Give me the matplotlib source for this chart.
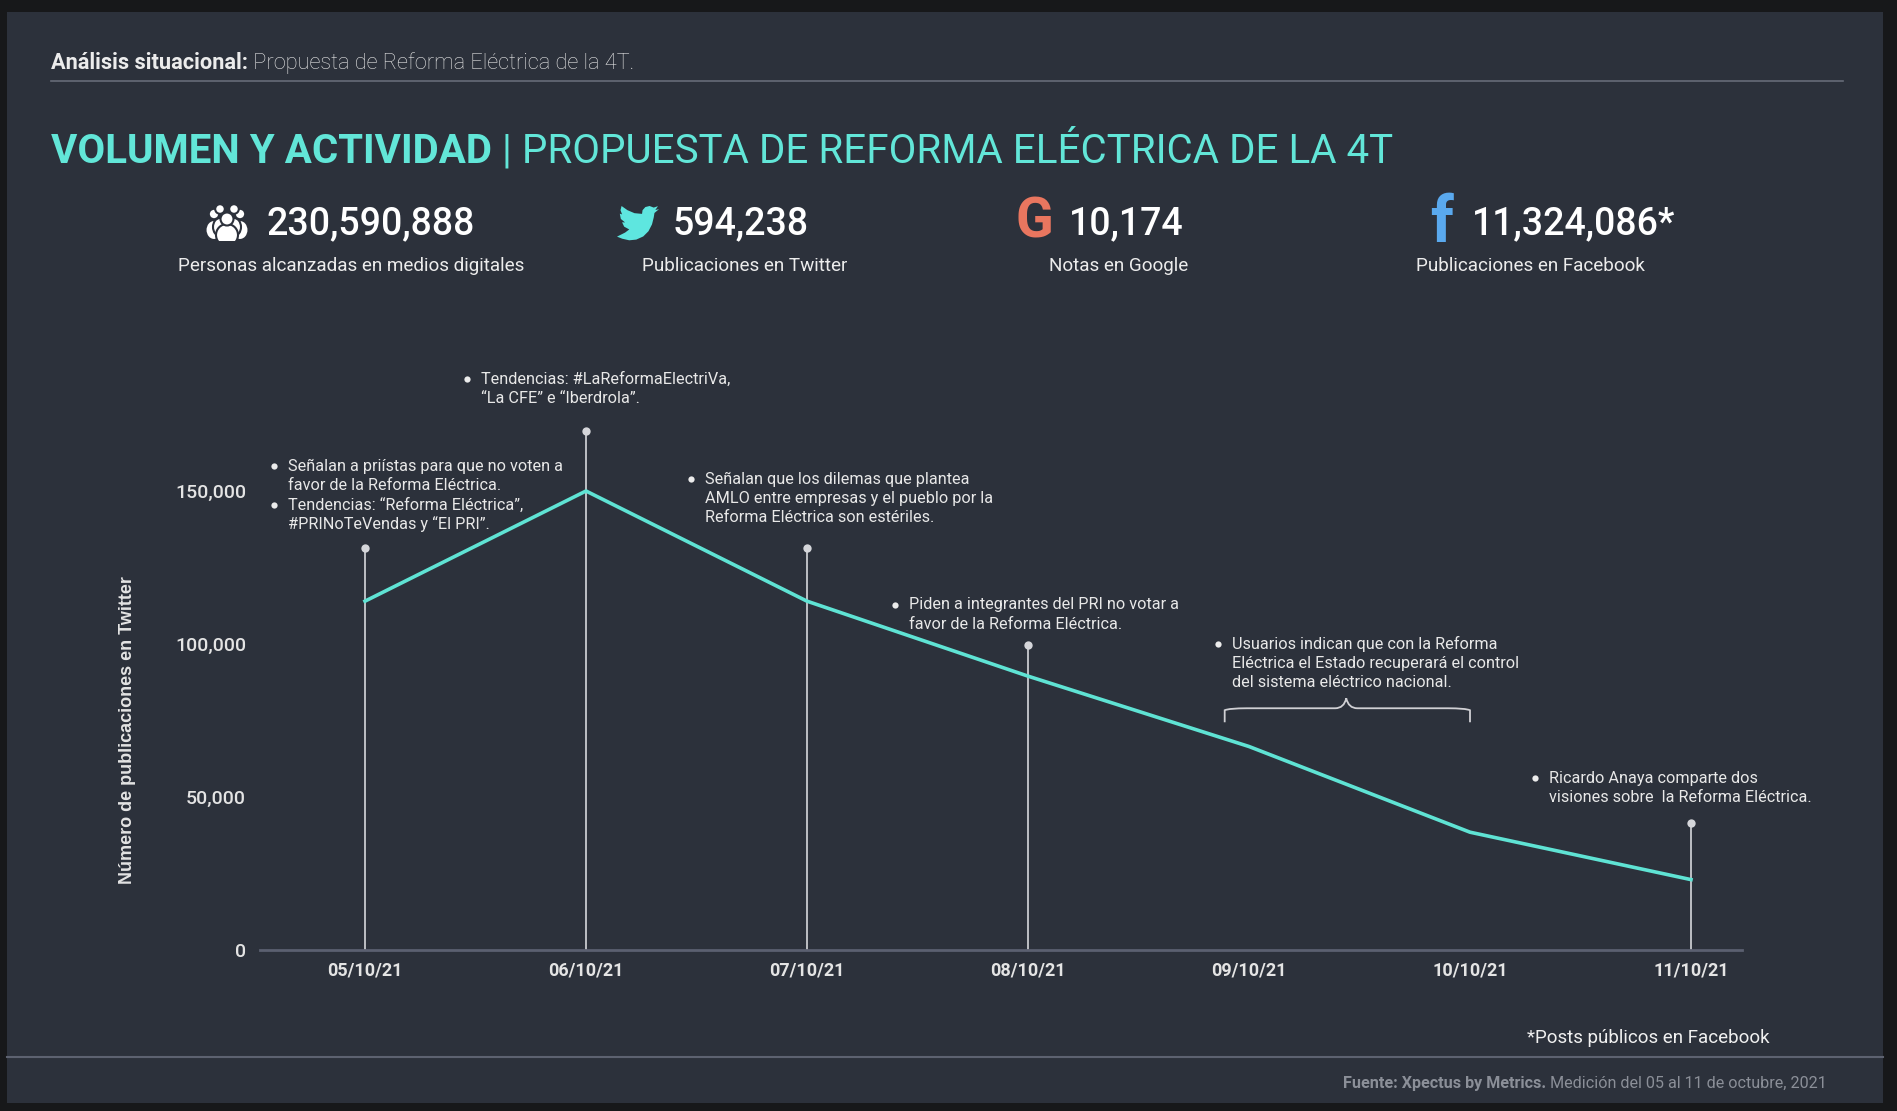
import matplotlib.pyplot as plt
from matplotlib.patches import Rectangle, Circle, Ellipse, Polygon
from matplotlib.path import Path
from matplotlib.patches import PathPatch

# datos
fechas = ["05/10/21", "06/10/21", "07/10/21", "08/10/21", "09/10/21", "10/10/21", "11/10/21"]
publicaciones = [114000, 150000, 114000, 89500, 66500, 38500, 23000]
y_ticks = [0, 50000, 100000, 150000]

# marcas de eventos (indice de fecha, altura del punto)
evento_idx = [0, 1, 2, 3, 6]
evento_alto = [131500, 169500, 131500, 99800, 41600]

stats_valores = ["230,590,888", "594,238", "10,174", "11,324,086*"]
stats_etiquetas = ["Personas alcanzadas en medios digitales", "Publicaciones en Twitter",
                   "Notas en Google", "Publicaciones en Facebook"]

notas = [
    (288, 466, [(True, "Señalan a priístas para que no voten a"),
                (False, "favor de la Reforma Eléctrica."),
                (True, "Tendencias: “Reforma Eléctrica”,"),
                (False, "#PRINoTeVendas y “El PRI”.")]),
    (481, 379, [(True, "Tendencias: #LaReformaElectriVa,"),
                (False, "“La CFE” e “Iberdrola”.")]),
    (705, 479, [(True, "Señalan que los dilemas que plantea"),
                (False, "AMLO entre empresas y el pueblo por la"),
                (False, "Reforma Eléctrica son estériles.")]),
    (909, 605, [(True, "Piden a integrantes del PRI no votar a"),
                (False, "favor de la Reforma Eléctrica.")]),
    (1232, 644, [(True, "Usuarios indican que con la Reforma"),
                 (False, "Eléctrica el Estado recuperará el control"),
                 (False, "del sistema eléctrico nacional.")]),
    (1549, 778, [(True, "Ricardo Anaya comparte dos"),
                 (False, "visiones sobre  la Reforma Eléctrica.")]),
]

FONDO = "#17181a"
PANEL = "#2c313b"
CIAN = "#62e6d8"
W, H = 1897, 1111

plt.rcParams['font.family'] = ['Roboto', 'DejaVu Sans']

fig = plt.figure(figsize=(W / 100, H / 100), dpi=100)
fig.patch.set_facecolor(FONDO)

bg = fig.add_axes([0, 0, 1, 1])
bg.set_xlim(0, W)
bg.set_ylim(H, 0)
bg.axis('off')
bg.add_patch(Rectangle((7, 12), 1876, 1091, facecolor=PANEL, edgecolor='none'))
bg.plot([51, 1843], [81, 81], color="#666b78", lw=1.2)
bg.plot([7, 1883], [1057, 1057], color="#5d6270", lw=1.5)

r = fig.canvas.get_renderer()


def texto_doble(x, y, a, b, size, ca, cb, wa='bold', wb='normal', ha='left'):
    # y es la linea base en pixeles (desde arriba)
    if ha == 'left':
        t1 = bg.text(x, y, a, fontsize=size, color=ca, fontweight=wa, va='baseline')
        bb = t1.get_window_extent(r)
        bg.text(bb.x1, H - y, b, fontsize=size, color=cb, fontweight=wb, va='baseline',
                transform=None)
    else:
        t2 = bg.text(x, y, b, fontsize=size, color=cb, fontweight=wb, va='baseline', ha='right')
        bb = t2.get_window_extent(r)
        bg.text(bb.x0, H - y, a, fontsize=size, color=ca, fontweight=wa, va='baseline',
                ha='right', transform=None)


texto_doble(51, 69, "Análisis situacional:", " Propuesta de Reforma Eléctrica de la 4T.",
            15.7, "#ececec", "#e6e6e6", wb='light')
texto_doble(51, 163, "VOLUMEN Y ACTIVIDAD", " | PROPUESTA DE REFORMA ELÉCTRICA DE LA 4T",
            29, CIAN, CIAN)
texto_doble(1827, 1088, "Fuente: Xpectus by Metrics.", " Medición del 05 al 11 de octubre, 2021",
            11.6, "#8b8f98", "#8b8f98", ha='right')
bg.text(1770, 1038, "*Posts públicos en Facebook", fontsize=13.5, color="#f0f0f0",
        ha='right', va='center')

# estadisticas
num_x = [266, 673, 1069, 1472]
lab_x = [351, 745, 1119, 1530]
for v, e, nx, lx in zip(stats_valores, stats_etiquetas, num_x, lab_x):
    bg.text(nx, 224, v, fontsize=27, color="white", va='center', fontweight='medium')
    bg.text(lx, 266, e, fontsize=13.6, color="#ececec", ha='center', va='center')

# icono personas
cx, cy = 227, 222
for dx in (-13, 13):
    bg.add_patch(Ellipse((cx + dx, cy + 8), 17, 20, facecolor="white", edgecolor=PANEL, lw=1.5))
    bg.add_patch(Circle((cx + dx, cy - 8), 5.2, facecolor="white", edgecolor=PANEL, lw=1.5))
for dx in (-7, 7):
    bg.add_patch(Ellipse((cx + dx, cy + 5), 14, 18, facecolor="white", edgecolor=PANEL, lw=1.5))
    bg.add_patch(Circle((cx + dx, cy - 13), 4.8, facecolor="white", edgecolor=PANEL, lw=1.5))
bg.add_patch(Ellipse((cx, cy + 13), 22, 22, facecolor="white", edgecolor=PANEL, lw=1.5))
bg.add_patch(Circle((cx, cy - 3), 6.5, facecolor="white", edgecolor=PANEL, lw=1.5))
bg.add_patch(Rectangle((cx - 25, cy + 19), 50, 12, facecolor=PANEL, edgecolor='none'))

# icono twitter
ave = [(0, 2.5), (3, 1.3), (7, 0.4), (11, 0.8), (15, 2.6), (18, 5.6), (20, 9.5), (21, 13.5),
       (21.4, 16), (24, 18.2), (21.9, 17.7), (23.4, 19.9), (21, 19.1), (18.6, 20), (16.2, 19.4),
       (14.6, 17.6), (14.3, 15.5), (10, 15.9), (6, 17.6), (2.6, 20), (2, 17.6), (2.9, 15.2),
       (1.6, 15.6), (2.2, 12.6), (4.6, 10.6), (2.9, 10.7), (4.1, 8.2), (7, 6.6), (4.6, 4.8)]
bx, by, s = 617, 241, 42 / 24
bg.add_patch(Polygon([(bx + px * s, by - py * s) for px, py in ave], closed=True,
                     facecolor="#5ee6df", edgecolor='none'))

bg.text(1034, 222, "G", fontsize=40, color="#e9765f", fontweight='bold', ha='center', va='center')
bg.text(1442, 224, "f", fontsize=46, color="#5aa9ee", fontweight='bold', ha='center', va='center')

# notas
for tx, ty, lineas in notas:
    for i, (bullet, linea) in enumerate(lineas):
        yy = ty + i * 19.4
        if bullet:
            bg.plot(tx - 14, yy, 'o', ms=4.5, color="#ececec", mec='none')
        bg.text(tx, yy, linea, fontsize=11.7, color="#e8e8e8", va='center')

# grafica
ax_l, ax_r, ax_b, ax_t = 260, 1742, 950, 330
ax = fig.add_axes([ax_l / W, (H - ax_b) / H, (ax_r - ax_l) / W, (ax_b - ax_t) / H])
ax.set_facecolor('none')
x = list(range(len(fechas)))
ppu = (1691 - 365) / 6
ax.set_xlim(-(365 - ax_l) / ppu, 6 + (ax_r - 1691) / ppu)
ax.set_ylim(0, (ax_b - ax_t) / 459 * 150000)

for i, alto in zip(evento_idx, evento_alto):
    ax.plot([i, i], [0, alto], color="#c9cacf", lw=1.3, zorder=2)
    ax.plot(i, alto, 'o', color="#d5d6da", ms=6, mec='none', zorder=3)

ax.plot(x, publicaciones, color="#5fe3d4", lw=2.6, zorder=4, solid_joinstyle='round')

# llave sobre 09/10 - 10/10
k = 150000 / 459
xa, xb, xm = 3.89, 5.0, 4.44
yb = 79000
llave = Path([(xa, yb - 14 * k), (xa, yb - 2 * k), (xa + 0.02, yb), (xa + 0.1, yb),
              (xm - 0.05, yb), (xm - 0.01, yb), (xm, yb + 10 * k),
              (xm + 0.01, yb), (xm + 0.05, yb),
              (xb - 0.1, yb), (xb - 0.02, yb), (xb, yb - 2 * k), (xb, yb - 14 * k)],
             [Path.MOVETO, Path.LINETO, Path.CURVE3, Path.CURVE3,
              Path.LINETO, Path.CURVE3, Path.CURVE3,
              Path.CURVE3, Path.CURVE3,
              Path.LINETO, Path.CURVE3, Path.CURVE3, Path.LINETO])
ax.add_patch(PathPatch(llave, facecolor='none', edgecolor="#d0d0d4", lw=1.3))

for sp in ['top', 'right', 'left']:
    ax.spines[sp].set_visible(False)
ax.spines['bottom'].set_color("#5b6070")
ax.spines['bottom'].set_linewidth(2)
ax.set_xticks(x)
ax.set_xticklabels(fechas, fontsize=13, color="#e4e4e4", fontweight='bold')
ax.set_yticks(y_ticks)
ax.set_yticklabels([f"{v:,}" for v in y_ticks], fontsize=14, color="#e4e4e4", fontweight='medium')
ax.tick_params(axis='both', length=0)
ax.tick_params(axis='x', pad=8)
ax.tick_params(axis='y', pad=10)
ax.set_ylabel("Número de publicaciones en Twitter", fontsize=13, color="#e4e4e4",
              fontweight='bold', family=['Liberation Sans', 'DejaVu Sans'])
ax.yaxis.set_label_coords(-0.084, 0.355)

fig.savefig("out.png", dpi=100, facecolor=FONDO)
